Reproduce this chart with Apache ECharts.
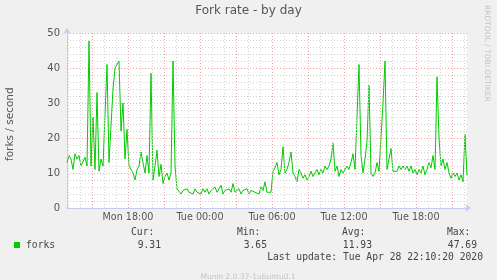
<!DOCTYPE html>
<html>
<head>
<meta charset="utf-8">
<script src="https://cdn.jsdelivr.net/npm/echarts@6/dist/echarts.min.js"></script>
<style>
html,body{margin:0;padding:0;background:#f0f0f0;}
#c{width:497px;height:280px;}
</style>
</head>
<body>
<div id="c"></div>
<script>
// ---- data ----
const startHour = 12 + 55 / 60;   // Mon 12:55 (hours since Mon 00:00)
const stepHours = 1 / 6;          // 10-minute samples
const forks = [
  13, 15, 14, 11, 15.5, 14, 15, 12, 11.5, 14.5,
  12, 47.7, 12, 26, 11, 33, 10.5, 14, 12, 12,
  41, 13, 12.5, 34, 40, 40, 42, 22, 30, 14,
  22.5, 12, 12, 10, 8, 11, 12, 16, 13, 10,
  15, 10, 38.5, 8, 12, 16.5, 9, 12.5, 7, 9,
  10, 8, 10, 42, 12, 5.5, 6, 4, 5, 4.5,
  5.5, 4.5, 5, 4, 5.5, 4.5, 5, 4, 5.5, 4.5,
  5.5, 4, 5, 4.5, 6, 4.5, 5, 6.5, 4, 5,
  4.5, 5.5, 4.5, 7, 4.5, 5, 5.5, 4, 5, 4.5,
  5.5, 4, 5, 5.5, 4.5, 5, 4, 6, 5, 7.5,
  4.5, 5, 4.5, 10.5, 11.5, 13, 9.5, 11, 17.5, 10,
  11, 13, 16, 10, 9, 7.5, 11, 10, 8.5, 9.5,
  8, 9, 10.5, 9, 10, 11, 9.5, 11, 10, 12,
  11, 12, 14, 18.5, 10.5, 12, 9, 11, 10, 9.5,
  12, 11, 13, 15.5, 11, 11, 41, 15, 10, 14,
  19, 35, 10, 9, 10, 13, 10.5, 10, 30, 42,
  11, 10.5, 17, 10.5, 11, 10.5, 12, 11, 12, 11,
  12, 10.5, 12, 10, 11, 9.5, 11, 10, 12, 9.5,
  11, 13, 11.5, 15, 11, 37.5, 20, 12, 14, 11,
  13, 10, 8.5, 10, 9, 10, 8, 9.5, 7.5, 21,
  9.31
];
const labelHours = [18, 24, 30, 36, 42];
const labelTexts = ['Mon 18:00', 'Tue 00:00', 'Tue 06:00', 'Tue 12:00', 'Tue 18:00'];
const minorHours = [13, 14, 16, 17, 19, 20, 22, 23, 25, 26, 28, 29, 31, 32, 34, 35, 37, 38, 40, 41, 43, 44, 46];
const majorHours = [15, 18, 21, 24, 27, 30, 33, 36, 39, 42, 45];
const statNames = ['Cur:', 'Min:', 'Avg:', 'Max:'];
const statValues = ['9.31', '3.65', '11.93', '47.69'];

// ---- chart ----
const seriesData = forks.map((v, i) => [startHour + i * stepHours, v]);
const endHour = startHour + (forks.length - 1) * stepHours;

const chart = echarts.init(document.getElementById('c'), null, {renderer: 'canvas'});
const gridColor = '#d2d2d2';
const majorColor = '#f0a4a4';
const axisColor = '#c6cbf2';
const txt = '#555';
const mono = '"DejaVu Sans Mono", monospace';
const sans = '"DejaVu Sans", sans-serif';

function vLines(hours) {
  return hours.map(h => ({xAxis: h}));
}

const statX = [131, 237, 342, 447];
const valRight = [161, 267, 372, 477];
const graphics = [
  {type: 'text', left: 'center', top: 5, style: {text: 'Fork rate - by day', font: '12px ' + sans, fill: txt}},
  {type: 'text', x: 5, y: 161, rotation: Math.PI / 2, style: {text: 'forks / second', font: '10.5px ' + sans, fill: txt}},
  {type: 'text', x: 491, y: 5, rotation: -Math.PI / 2, style: {text: 'RRDTOOL / TOBI OETIKER', font: '7.5px ' + sans, fill: '#c4c4c4'}},
  {type: 'rect', shape: {x: 14, y: 242, width: 6, height: 6}, style: {fill: '#00cc00'}},
  {type: 'text', x: 26, y: 245, style: {text: 'forks', font: '9.7px ' + mono, fill: '#444', verticalAlign: 'middle'}},
  {type: 'text', x: 483, y: 257, style: {text: 'Last update: Tue Apr 28 22:10:20 2020', font: '9.7px ' + mono, fill: '#444', align: 'right', verticalAlign: 'middle'}},
  {type: 'text', x: 248, y: 277, style: {text: 'Munin 2.0.37-1ubuntu0.1', font: '7.5px ' + sans, fill: '#c4c4c4', align: 'center', verticalAlign: 'middle'}}
];
statNames.forEach((n, i) => {
  graphics.push({type: 'text', x: statX[i], y: 232, style: {text: n, font: '9.7px ' + mono, fill: '#444', verticalAlign: 'middle'}});
  graphics.push({type: 'text', x: valRight[i], y: 245, style: {text: statValues[i], font: '9.7px ' + mono, fill: '#444', align: 'right', verticalAlign: 'middle'}});
});

chart.setOption({
  animation: false,
  backgroundColor: '#f0f0f0',
  grid: {left: 67, right: 30, top: 33, bottom: 72, show: true, backgroundColor: '#ffffff', borderWidth: 0},
  xAxis: {
    type: 'value', min: startHour, max: endHour,
    axisLine: {show: true, onZero: false, lineStyle: {color: axisColor, width: 1}, symbol: ['none', 'arrow'], symbolSize: [6, 6], symbolOffset: [0, 4]},
    axisTick: {show: false},
    splitLine: {show: false},
    axisLabel: {
      customValues: labelHours,
      formatter: v => { const k = labelHours.indexOf(Math.round(v)); return k >= 0 ? labelTexts[k] : ''; },
      color: txt, fontFamily: sans, fontSize: 9.6, margin: 4
    }
  },
  yAxis: [{
    type: 'value', min: 0, max: 50, interval: 2,
    axisLine: {show: true, lineStyle: {color: axisColor, width: 1}, symbol: ['none', 'arrow'], symbolSize: [6, 6], symbolOffset: [0, 5]},
    axisTick: {show: false},
    splitLine: {show: true, lineStyle: {color: gridColor, type: [1, 2], width: 1}},
    axisLabel: {formatter: v => (v % 10 === 0 ? String(v) : ''), color: txt, fontFamily: sans, fontSize: 10, margin: 7}
  }, {
    type: 'value', min: 0, max: 50, interval: 10, position: 'left',
    axisLine: {show: false}, axisTick: {show: false}, axisLabel: {show: false},
    splitLine: {show: true, lineStyle: {color: majorColor, type: [1, 2], width: 1}}
  }],
  series: [{
    type: 'line', data: [], z: 1, silent: true,
    markLine: {
      silent: true, symbol: 'none', label: {show: false}, animation: false,
      data: vLines(minorHours).map(d => Object.assign(d, {lineStyle: {color: gridColor, type: [1, 2], width: 1}}))
        .concat(vLines(majorHours).map(d => Object.assign(d, {lineStyle: {color: majorColor, type: [1, 2], width: 1}})))
    }
  }, {
    name: 'forks', type: 'line', data: seriesData, z: 3,
    showSymbol: false, symbol: 'none',
    lineStyle: {color: '#00cc00', width: 1},
    itemStyle: {color: '#00cc00'}
  }],
  graphic: graphics
});
</script>
</body>
</html>
